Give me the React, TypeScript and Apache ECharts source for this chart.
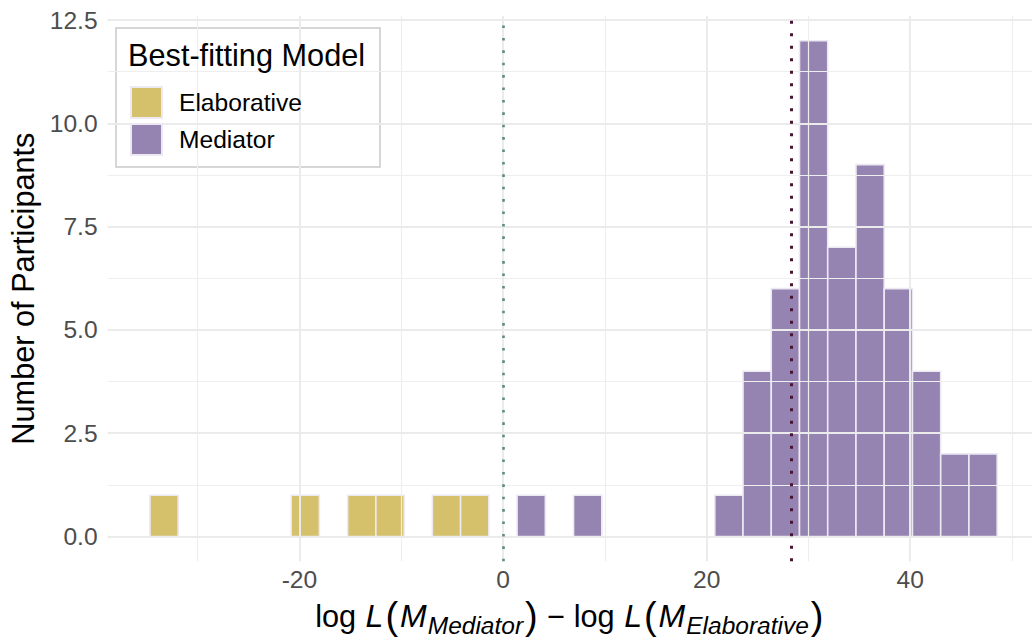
import React, { useEffect, useRef } from "react";
import * as echarts from "echarts";

// ---- data ----
const binStart = -34.68; // left edge of first histogram bin
const binWidth = 2.774;
const elaborativeCounts = [1, 0, 0, 0, 0, 1, 0, 1, 1, 0, 1, 1, 0, 0, 0, 0, 0, 0, 0, 0, 0, 0, 0, 0, 0, 0, 0, 0, 0, 0];
const mediatorCounts = [0, 0, 0, 0, 0, 0, 0, 0, 0, 0, 0, 0, 0, 1, 0, 1, 0, 0, 0, 0, 1, 4, 6, 12, 7, 9, 6, 4, 2, 2];
const zeroLine = 0;
const meanLine = 28.36;
const xTicks = [-20, 0, 20, 40];
const xMinor = [-30, -10, 10, 30, 50];
const yTicks = [0, 2.5, 5, 7.5, 10, 12.5];
const yMinor = [1.25, 3.75, 6.25, 8.75, 11.25];
const seriesNames = ["Elaborative", "Mediator"];

const FONT = "'Liberation Sans', Arial, Helvetica, sans-serif";
const COLORS = ["rgba(208,185,92,0.9)", "rgba(137,117,170,0.9)"];
const OUTLINE = "#ECE9F3";

function toBins(counts: number[]) {
  const out: number[][] = [];
  counts.forEach((c, i) => {
    if (c > 0) out.push([binStart + i * binWidth, binStart + (i + 1) * binWidth, c]);
  });
  return out;
}

function histSeries(name: string, counts: number[], color: string) {
  return {
    type: "custom",
    name,
    z: 2,
    itemStyle: { color, borderColor: OUTLINE, borderWidth: 1.5 },
    encode: { x: [0, 1], y: 2 },
    data: toBins(counts),
    renderItem: (params: any, api: any) => {
      const p0 = api.coord([api.value(0), api.value(2)]);
      const p1 = api.coord([api.value(1), 0]);
      return {
        type: "rect",
        shape: { x: p0[0], y: p0[1], width: p1[0] - p0[0], height: p1[1] - p0[1] },
        style: { fill: color, stroke: OUTLINE, lineWidth: 1.6 },
      };
    },
  };
}

export default function App() {
  const ref = useRef<HTMLDivElement>(null);
  useEffect(() => {
    if (!ref.current) return;
    const chart = echarts.init(ref.current, undefined, { renderer: "svg" });
    const major = { color: "#EBEBEB", width: 2, type: "solid" };
    const minor = { color: "#EEEEEE", width: 1.2, type: "solid" };
    const gridLines = [
      ...xMinor.map((v) => ({ xAxis: v, lineStyle: minor })),
      ...yMinor.map((v) => ({ yAxis: v, lineStyle: minor })),
      ...xTicks.map((v) => ({ xAxis: v, lineStyle: major })),
      ...yTicks.map((v) => ({ yAxis: v, lineStyle: major })),
    ];
    const option: any = {
      animation: false,
      backgroundColor: "#ffffff",
      textStyle: { fontFamily: FONT },
      grid: {
        left: 107.6,
        right: 0,
        top: 15.9,
        bottom: 76.7,
        containLabel: false,
        outerBoundsMode: "none",
      },
      xAxis: {
        type: "value",
        min: -38.84,
        max: 51.96,
        axisLine: { show: false },
        axisTick: { show: false },
        splitLine: { show: false },
        axisLabel: {
          customValues: xTicks,
          color: "#4D4D4D",
          fontSize: 24.6,
          margin: 6,
          fontFamily: FONT,
        },
        name:
          "{n|log }{i|L}{p|(}{i|M}{s|Mediator}{p|)}{n| − log }{i|L}{p|(}{i|M}{s|Elaborative}{p|)}",
        nameLocation: "middle",
        nameGap: 19,
        nameTextStyle: {
          fontFamily: FONT,
          color: "#000",
          rich: {
            n: { fontSize: 30.7, color: "#000", fontFamily: FONT },
            i: { fontSize: 32, color: "#000", fontStyle: "italic", fontFamily: FONT, padding: [0, 1, 0, 1] },
            p: { fontSize: 38, color: "#000", fontFamily: FONT, padding: [0, 1, 0, 1] },
            s: { fontSize: 24.5, color: "#000", fontStyle: "italic", fontFamily: FONT, padding: [18, 1, 0, 0] },
          },
        },
      },
      yAxis: {
        type: "value",
        min: -0.6,
        max: 12.6,
        axisLine: { show: false },
        axisTick: { show: false },
        splitLine: { show: false },
        axisLabel: {
          customValues: yTicks,
          formatter: (v: number) => v.toFixed(1),
          color: "#4D4D4D",
          fontSize: 24.6,
          margin: 10,
          fontFamily: FONT,
        },
        name: "Number of Participants",
        nameLocation: "middle",
        nameGap: 62,
        nameTextStyle: { fontSize: 30.7, color: "#000", fontFamily: FONT },
      },
      legend: {
        orient: "vertical",
        left: 130,
        top: 86,
        padding: 0,
        itemWidth: 31,
        itemHeight: 31,
        itemGap: 4,
        icon: "rect",
        z: 10,
        data: seriesNames,
        textStyle: { fontSize: 24.6, color: "#000", fontFamily: FONT, padding: [0, 0, 0, 12] },
      },
      graphic: [
        {
          type: "rect",
          z: 5,
          shape: { x: 116, y: 28, width: 264, height: 139 },
          style: { fill: "#ffffff", stroke: "#C9C9C9", lineWidth: 1.5 },
        },
        {
          type: "text",
          z: 6,
          x: 128,
          y: 55,
          style: {
            text: "Best-fitting Model",
            fontSize: 30.7,
            fill: "#000",
            fontFamily: FONT,
            verticalAlign: "middle",
          },
        },
      ],
      series: [
        {
          type: "line",
          data: [],
          z: 0,
          silent: true,
          markLine: {
            silent: true,
            symbol: ["none", "none"],
            label: { show: false },
            data: gridLines,
          },
        },
        histSeries(seriesNames[0], elaborativeCounts, COLORS[0]),
        histSeries(seriesNames[1], mediatorCounts, COLORS[1]),
        {
          type: "line",
          data: [],
          z: 3,
          silent: true,
          markLine: {
            silent: true,
            symbol: ["none", "none"],
            label: { show: false },
            data: [
              { xAxis: zeroLine, lineStyle: { color: "#5E8C7A", width: 2.6, type: [2.6, 9.8] } },
              { xAxis: meanLine, lineStyle: { color: "#4A1530", width: 3, type: [3, 9.5] } },
            ],
          },
        },
      ],
    };
    chart.setOption(option);
    return () => chart.dispose();
  }, []);
  return (
    <div
      ref={ref}
      style={{ position: "fixed", left: 0, top: 0, width: 1032, height: 638, background: "#fff" }}
    />
  );
}
